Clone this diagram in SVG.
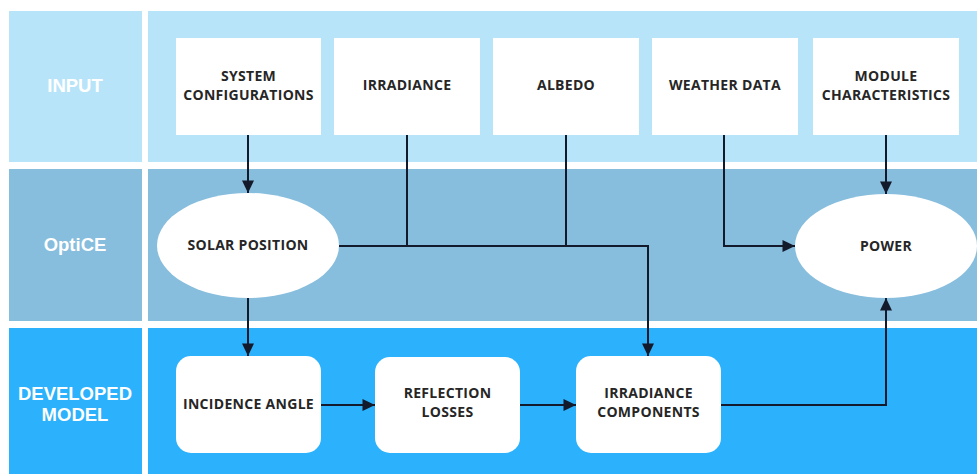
<svg xmlns="http://www.w3.org/2000/svg" width="977" height="474" viewBox="0 0 977 474">
<defs>
<style>
.band1{fill:#b8e4f9}
.band2{fill:#87bddd}
.band3{fill:#2cb1fc}
.lane{font-family:"Liberation Sans",Arial,sans-serif;font-weight:bold;font-size:18.5px;fill:#ffffff;text-anchor:middle}
.box{fill:#ffffff}
.lbl{font-family:"Open Sans","Liberation Sans",sans-serif;font-weight:bold;font-size:14px;fill:#262626;text-anchor:middle;letter-spacing:0.3px}
.con{fill:none;stroke:#121a2c;stroke-width:2}
</style>
<marker id="arr" markerUnits="userSpaceOnUse" markerWidth="14" markerHeight="14" viewBox="0 0 14 14" refX="13" refY="7" orient="auto">
<path d="M0.5,1 L13,7 L0.5,13 Z" fill="#121a2c"/>
</marker>
</defs>
<rect x="0" y="0" width="977" height="474" fill="#ffffff"/>
<g id="lanes">
<rect class="band1" x="9" y="11" width="133" height="151"/>
<rect class="band1" x="148" y="11" width="829" height="151"/>
<rect class="band2" x="9" y="169" width="133" height="152"/>
<rect class="band2" x="148" y="169" width="829" height="152"/>
<rect class="band3" x="9" y="328" width="133" height="146"/>
<rect class="band3" x="148" y="328" width="829" height="146"/>
<text class="lane" x="75" y="92">INPUT</text>
<text class="lane" x="75" y="251">OptiCE</text>
<text class="lane" x="75" y="400">DEVELOPED</text>
<text class="lane" x="75" y="421">MODEL</text>
</g>
<g id="connectors">
<path class="con" d="M248,135 V193" marker-end="url(#arr)"/>
<path class="con" d="M248,298 V356" marker-end="url(#arr)"/>
<path class="con" d="M339,246 H648 V356" marker-end="url(#arr)"/>
<path class="con" d="M407,135 V246"/>
<path class="con" d="M566,135 V246"/>
<path class="con" d="M724,135 V246 H795" marker-end="url(#arr)"/>
<path class="con" d="M886,135 V194" marker-end="url(#arr)"/>
<path class="con" d="M321,405 H375" marker-end="url(#arr)"/>
<path class="con" d="M520,405 H576" marker-end="url(#arr)"/>
<path class="con" d="M721,405 H886 V298" marker-end="url(#arr)"/>
</g>
<g id="system-configurations">
<rect class="box" x="176" y="38" width="145" height="97"/>
<text class="lbl" x="248.5" y="81">SYSTEM</text>
<text class="lbl" x="248.5" y="100">CONFIGURATIONS</text>
</g>
<g id="irradiance">
<rect class="box" x="334" y="38" width="146" height="97"/>
<text class="lbl" x="407" y="90">IRRADIANCE</text>
</g>
<g id="albedo">
<rect class="box" x="493" y="38" width="146" height="97"/>
<text class="lbl" x="566" y="90">ALBEDO</text>
</g>
<g id="weather-data">
<rect class="box" x="652" y="38" width="146" height="97"/>
<text class="lbl" x="725" y="90">WEATHER DATA</text>
</g>
<g id="module-characteristics">
<rect class="box" x="813" y="38" width="146" height="97"/>
<text class="lbl" x="886" y="81">MODULE</text>
<text class="lbl" x="886" y="100">CHARACTERISTICS</text>
</g>
<g id="solar-position">
<ellipse class="box" cx="248" cy="245.5" rx="91" ry="52.5"/>
<text class="lbl" x="248" y="250">SOLAR POSITION</text>
</g>
<g id="power">
<ellipse class="box" cx="886" cy="246" rx="91" ry="52"/>
<text class="lbl" x="886" y="250.5">POWER</text>
</g>
<g id="incidence-angle">
<rect class="box" x="176" y="356" width="145" height="97" rx="15"/>
<text class="lbl" x="248.5" y="409">INCIDENCE ANGLE</text>
</g>
<g id="reflection-losses">
<rect class="box" x="375" y="357" width="145" height="96" rx="15"/>
<text class="lbl" x="447.5" y="398">REFLECTION</text>
<text class="lbl" x="447.5" y="417">LOSSES</text>
</g>
<g id="irradiance-components">
<rect class="box" x="576" y="356" width="145" height="97" rx="15"/>
<text class="lbl" x="648.5" y="398">IRRADIANCE</text>
<text class="lbl" x="648.5" y="417">COMPONENTS</text>
</g>
</svg>
